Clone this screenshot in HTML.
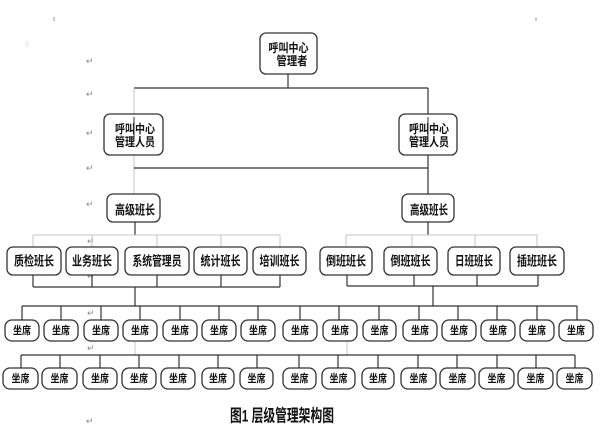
<!DOCTYPE html>
<html>
<head>
<meta charset="utf-8">
<style>
html,body{margin:0;padding:0;background:#fff;}
svg{display:block;}
text{font-family:"Liberation Sans","Noto Sans CJK SC",sans-serif;fill:#111;}
.t{font-weight:bold;}
.b{fill:#fff;stroke:#333;stroke-width:1.3;}
.l{stroke:#333;stroke-width:1.2;fill:none;}
.g{stroke:#c4c4c4;stroke-width:1;fill:none;}
.pm{font-size:9px;fill:#8a8a8a;}
</style>
</head>
<body>
<svg width="600" height="431" viewBox="0 0 600 431" xmlns="http://www.w3.org/2000/svg">
<line x1="54" y1="17" x2="54" y2="21" stroke="#999" stroke-width="1"/>
<line x1="536" y1="17" x2="536" y2="21" stroke="#999" stroke-width="1"/>
<text x="25" y="45" style="font-size:7px;fill:#ddd">ɡ</text>

<g>
<text x="86" y="64" class="pm">↵</text>
<text x="86" y="97" class="pm">↵</text>
<text x="86" y="136" class="pm">↵</text>
<text x="86" y="171" class="pm">↵</text>
<text x="86" y="207" class="pm">↵</text>
<text x="87" y="244" class="pm">↵</text>
<text x="87" y="279" class="pm">↵</text>
<text x="87" y="316" class="pm">↵</text>
<text x="87" y="351" class="pm">↵</text>
<text x="86" y="388" class="pm">↵</text>
<text x="86" y="424" class="pm">↵</text>
</g>

<line class="l" x1="288" y1="74" x2="288" y2="88"/>
<line class="l" x1="134" y1="88" x2="428" y2="88"/>
<line class="g" x1="134" y1="88" x2="134" y2="194"/>
<line class="l" x1="428" y1="88" x2="428" y2="194"/>
<line class="l" x1="134" y1="168" x2="428" y2="168"/>

<rect class="b" x="260" y="33" width="57" height="41" rx="6"/>
<text class="t" x="288.5" y="48" dominant-baseline="central" text-anchor="middle" font-size="12" textLength="40" lengthAdjust="spacingAndGlyphs">呼叫中心</text>
<text class="t" x="292" y="61" dominant-baseline="central" text-anchor="middle" font-size="12" textLength="31" lengthAdjust="spacingAndGlyphs">管理者</text>

<rect class="b" x="104" y="114" width="59" height="41" rx="6"/>
<text class="t" x="135" y="129" dominant-baseline="central" text-anchor="middle" font-size="12" textLength="40" lengthAdjust="spacingAndGlyphs">呼叫中心</text>
<text class="t" x="135" y="142" dominant-baseline="central" text-anchor="middle" font-size="12" textLength="40" lengthAdjust="spacingAndGlyphs">管理人员</text>
<line x1="134" y1="117" x2="134" y2="141" stroke="#333" stroke-width="1"/>

<rect class="b" x="399" y="114" width="58" height="41" rx="6"/>
<text class="t" x="429" y="129" dominant-baseline="central" text-anchor="middle" font-size="12" textLength="40" lengthAdjust="spacingAndGlyphs">呼叫中心</text>
<text class="t" x="429" y="142" dominant-baseline="central" text-anchor="middle" font-size="12" textLength="40" lengthAdjust="spacingAndGlyphs">管理人员</text>
<line x1="428" y1="117" x2="428" y2="141" stroke="#333" stroke-width="1"/>

<rect class="b" x="107" y="194" width="53" height="28" rx="6"/>
<text class="t" x="135" y="210" dominant-baseline="central" text-anchor="middle" font-size="13" textLength="40" lengthAdjust="spacingAndGlyphs">高级班长</text>
<rect class="b" x="402" y="194" width="52" height="28" rx="6"/>
<text class="t" x="429" y="210" dominant-baseline="central" text-anchor="middle" font-size="13" textLength="38" lengthAdjust="spacingAndGlyphs">高级班长</text>

<line class="l" x1="135" y1="222" x2="135" y2="235"/>
<line class="g" x1="33" y1="235" x2="280" y2="235"/>
<g class="g">
<line x1="33" y1="235" x2="33" y2="247"/>
<line x1="92" y1="235" x2="92" y2="247"/>
<line x1="157" y1="235" x2="157" y2="247"/>
<line x1="221" y1="235" x2="221" y2="247"/>
<line x1="280" y1="235" x2="280" y2="247"/>
</g>
<line class="l" x1="33" y1="287" x2="280" y2="287"/>
<g class="l">
<line x1="33" y1="275" x2="33" y2="287"/>
<line x1="92" y1="275" x2="92" y2="287"/>
<line x1="157" y1="275" x2="157" y2="287"/>
<line x1="221" y1="275" x2="221" y2="287"/>
<line x1="280" y1="275" x2="280" y2="287"/>
</g>
<line class="l" x1="135" y1="287" x2="135" y2="306"/>

<line class="l" x1="428" y1="222" x2="428" y2="235"/>
<line class="g" x1="346" y1="235" x2="537" y2="235"/>
<g class="g">
<line x1="346" y1="235" x2="346" y2="247"/>
<line x1="412" y1="235" x2="412" y2="247"/>
<line x1="475" y1="235" x2="475" y2="247"/>
<line x1="537" y1="235" x2="537" y2="247"/>
</g>
<line class="l" x1="347" y1="286" x2="538" y2="286"/>
<g class="l">
<line x1="347" y1="275" x2="347" y2="286"/>
<line x1="414" y1="275" x2="414" y2="286"/>
<line x1="477" y1="275" x2="477" y2="286"/>
<line x1="538" y1="275" x2="538" y2="286"/>
</g>
<line class="l" x1="433" y1="286" x2="433" y2="306"/>

<g class="t">
<rect class="b" x="7" y="247" width="54" height="28" rx="6"/>
<text x="34" y="261" dominant-baseline="central" text-anchor="middle" font-size="13" textLength="40" lengthAdjust="spacingAndGlyphs">质检班长</text>
<rect class="b" x="66" y="247" width="52" height="28" rx="6"/>
<text x="92" y="261" dominant-baseline="central" text-anchor="middle" font-size="13" textLength="40" lengthAdjust="spacingAndGlyphs">业务班长</text>
<rect class="b" x="125" y="247" width="64" height="28" rx="6"/>
<text x="157" y="261" dominant-baseline="central" text-anchor="middle" font-size="13" textLength="49" lengthAdjust="spacingAndGlyphs">系统管理员</text>
<rect class="b" x="194" y="247" width="53" height="28" rx="6"/>
<text x="220.5" y="261" dominant-baseline="central" text-anchor="middle" font-size="13" textLength="40" lengthAdjust="spacingAndGlyphs">统计班长</text>
<rect class="b" x="253" y="247" width="53" height="28" rx="6"/>
<text x="279.5" y="261" dominant-baseline="central" text-anchor="middle" font-size="13" textLength="40" lengthAdjust="spacingAndGlyphs">培训班长</text>
<rect class="b" x="320" y="247" width="52" height="28" rx="6"/>
<text x="346" y="261" dominant-baseline="central" text-anchor="middle" font-size="13" textLength="40" lengthAdjust="spacingAndGlyphs">倒班班长</text>
<rect class="b" x="384" y="247" width="53" height="28" rx="6"/>
<text x="410.5" y="261" dominant-baseline="central" text-anchor="middle" font-size="13" textLength="40" lengthAdjust="spacingAndGlyphs">倒班班长</text>
<rect class="b" x="448" y="247" width="52" height="28" rx="6"/>
<text x="474" y="261" dominant-baseline="central" text-anchor="middle" font-size="13" textLength="38" lengthAdjust="spacingAndGlyphs">日班班长</text>
<rect class="b" x="510" y="247" width="54" height="28" rx="6"/>
<text x="537" y="261" dominant-baseline="central" text-anchor="middle" font-size="13" textLength="40" lengthAdjust="spacingAndGlyphs">插班班长</text>
</g>

<line class="l" x1="22" y1="306" x2="577" y2="306"/>
<g class="l">
<line x1="22" y1="306" x2="22" y2="320"/>
<line x1="61" y1="306" x2="61" y2="320"/>
<line x1="101" y1="306" x2="101" y2="320"/>
<line x1="140" y1="306" x2="140" y2="320"/>
<line x1="180" y1="306" x2="180" y2="320"/>
<line x1="219" y1="306" x2="219" y2="320"/>
<line x1="258" y1="306" x2="258" y2="320"/>
<line x1="300" y1="306" x2="300" y2="320"/>
<line x1="339" y1="306" x2="339" y2="320"/>
<line x1="379" y1="306" x2="379" y2="320"/>
<line x1="419" y1="306" x2="419" y2="320"/>
<line x1="458" y1="306" x2="458" y2="320"/>
<line x1="497" y1="306" x2="497" y2="320"/>
<line x1="537" y1="306" x2="537" y2="320"/>
<line x1="577" y1="306" x2="577" y2="320"/>
</g>
<line class="g" x1="135" y1="341" x2="135" y2="355"/>
<line class="g" x1="347" y1="341" x2="347" y2="355"/>

<g class="t">
<rect class="b" x="5" y="320" width="34" height="21" rx="7"/><text x="22" y="331" dominant-baseline="central" text-anchor="middle" font-size="11" textLength="18" lengthAdjust="spacingAndGlyphs">坐席</text>
<rect class="b" x="44" y="320" width="34" height="21" rx="7"/><text x="61" y="331" dominant-baseline="central" text-anchor="middle" font-size="11" textLength="18" lengthAdjust="spacingAndGlyphs">坐席</text>
<rect class="b" x="84" y="320" width="34" height="21" rx="7"/><text x="101" y="331" dominant-baseline="central" text-anchor="middle" font-size="11" textLength="18" lengthAdjust="spacingAndGlyphs">坐席</text>
<rect class="b" x="123" y="320" width="34" height="21" rx="7"/><text x="140" y="331" dominant-baseline="central" text-anchor="middle" font-size="11" textLength="18" lengthAdjust="spacingAndGlyphs">坐席</text>
<rect class="b" x="163" y="320" width="34" height="21" rx="7"/><text x="180" y="331" dominant-baseline="central" text-anchor="middle" font-size="11" textLength="18" lengthAdjust="spacingAndGlyphs">坐席</text>
<rect class="b" x="202" y="320" width="34" height="21" rx="7"/><text x="219" y="331" dominant-baseline="central" text-anchor="middle" font-size="11" textLength="18" lengthAdjust="spacingAndGlyphs">坐席</text>
<rect class="b" x="241" y="320" width="34" height="21" rx="7"/><text x="258" y="331" dominant-baseline="central" text-anchor="middle" font-size="11" textLength="18" lengthAdjust="spacingAndGlyphs">坐席</text>
<rect class="b" x="283" y="320" width="34" height="21" rx="7"/><text x="300" y="331" dominant-baseline="central" text-anchor="middle" font-size="11" textLength="18" lengthAdjust="spacingAndGlyphs">坐席</text>
<rect class="b" x="323" y="320" width="34" height="21" rx="7"/><text x="340" y="331" dominant-baseline="central" text-anchor="middle" font-size="11" textLength="18" lengthAdjust="spacingAndGlyphs">坐席</text>
<rect class="b" x="363" y="320" width="33" height="21" rx="7"/><text x="379.5" y="331" dominant-baseline="central" text-anchor="middle" font-size="11" textLength="18" lengthAdjust="spacingAndGlyphs">坐席</text>
<rect class="b" x="403" y="320" width="34" height="21" rx="7"/><text x="420" y="331" dominant-baseline="central" text-anchor="middle" font-size="11" textLength="18" lengthAdjust="spacingAndGlyphs">坐席</text>
<rect class="b" x="442" y="320" width="34" height="21" rx="7"/><text x="459" y="331" dominant-baseline="central" text-anchor="middle" font-size="11" textLength="18" lengthAdjust="spacingAndGlyphs">坐席</text>
<rect class="b" x="481" y="320" width="34" height="21" rx="7"/><text x="498" y="331" dominant-baseline="central" text-anchor="middle" font-size="11" textLength="18" lengthAdjust="spacingAndGlyphs">坐席</text>
<rect class="b" x="520" y="320" width="34" height="21" rx="7"/><text x="537" y="331" dominant-baseline="central" text-anchor="middle" font-size="11" textLength="18" lengthAdjust="spacingAndGlyphs">坐席</text>
<rect class="b" x="559" y="320" width="34" height="21" rx="7"/><text x="576" y="331" dominant-baseline="central" text-anchor="middle" font-size="11" textLength="18" lengthAdjust="spacingAndGlyphs">坐席</text>
</g>

<line class="l" x1="21" y1="355" x2="575" y2="355"/>
<g class="l">
<line x1="21" y1="355" x2="21" y2="368"/>
<line x1="60" y1="355" x2="60" y2="368"/>
<line x1="100" y1="355" x2="100" y2="368"/>
<line x1="139" y1="355" x2="139" y2="368"/>
<line x1="179" y1="355" x2="179" y2="368"/>
<line x1="218" y1="355" x2="218" y2="368"/>
<line x1="257" y1="355" x2="257" y2="368"/>
<line x1="299" y1="355" x2="299" y2="368"/>
<line x1="338" y1="355" x2="338" y2="368"/>
<line x1="378" y1="355" x2="378" y2="368"/>
<line x1="418" y1="355" x2="418" y2="368"/>
<line x1="457" y1="355" x2="457" y2="368"/>
<line x1="497" y1="355" x2="497" y2="368"/>
<line x1="536" y1="355" x2="536" y2="368"/>
<line x1="575" y1="355" x2="575" y2="368"/>
</g>

<g class="t">
<rect class="b" x="3" y="368" width="35" height="21" rx="7"/><text x="20.5" y="379" dominant-baseline="central" text-anchor="middle" font-size="11" textLength="18" lengthAdjust="spacingAndGlyphs">坐席</text>
<rect class="b" x="42" y="368" width="35" height="21" rx="7"/><text x="59.5" y="379" dominant-baseline="central" text-anchor="middle" font-size="11" textLength="18" lengthAdjust="spacingAndGlyphs">坐席</text>
<rect class="b" x="83" y="368" width="34" height="21" rx="7"/><text x="100" y="379" dominant-baseline="central" text-anchor="middle" font-size="11" textLength="18" lengthAdjust="spacingAndGlyphs">坐席</text>
<rect class="b" x="122" y="368" width="34" height="21" rx="7"/><text x="139" y="379" dominant-baseline="central" text-anchor="middle" font-size="11" textLength="18" lengthAdjust="spacingAndGlyphs">坐席</text>
<rect class="b" x="161" y="368" width="34" height="21" rx="7"/><text x="178" y="379" dominant-baseline="central" text-anchor="middle" font-size="11" textLength="18" lengthAdjust="spacingAndGlyphs">坐席</text>
<rect class="b" x="202" y="368" width="32" height="21" rx="7"/><text x="218" y="379" dominant-baseline="central" text-anchor="middle" font-size="11" textLength="18" lengthAdjust="spacingAndGlyphs">坐席</text>
<rect class="b" x="240" y="368" width="33" height="21" rx="7"/><text x="256.5" y="379" dominant-baseline="central" text-anchor="middle" font-size="11" textLength="18" lengthAdjust="spacingAndGlyphs">坐席</text>
<rect class="b" x="283" y="368" width="33" height="21" rx="7"/><text x="299.5" y="379" dominant-baseline="central" text-anchor="middle" font-size="11" textLength="18" lengthAdjust="spacingAndGlyphs">坐席</text>
<rect class="b" x="322" y="368" width="33" height="21" rx="7"/><text x="338.5" y="379" dominant-baseline="central" text-anchor="middle" font-size="11" textLength="18" lengthAdjust="spacingAndGlyphs">坐席</text>
<rect class="b" x="362" y="368" width="32" height="21" rx="7"/><text x="378" y="379" dominant-baseline="central" text-anchor="middle" font-size="11" textLength="18" lengthAdjust="spacingAndGlyphs">坐席</text>
<rect class="b" x="401" y="368" width="35" height="21" rx="7"/><text x="418.5" y="379" dominant-baseline="central" text-anchor="middle" font-size="11" textLength="18" lengthAdjust="spacingAndGlyphs">坐席</text>
<rect class="b" x="440" y="368" width="35" height="21" rx="7"/><text x="457.5" y="379" dominant-baseline="central" text-anchor="middle" font-size="11" textLength="18" lengthAdjust="spacingAndGlyphs">坐席</text>
<rect class="b" x="479" y="368" width="35" height="21" rx="7"/><text x="496.5" y="379" dominant-baseline="central" text-anchor="middle" font-size="11" textLength="18" lengthAdjust="spacingAndGlyphs">坐席</text>
<rect class="b" x="518" y="368" width="35" height="21" rx="7"/><text x="535.5" y="379" dominant-baseline="central" text-anchor="middle" font-size="11" textLength="18" lengthAdjust="spacingAndGlyphs">坐席</text>
<rect class="b" x="557" y="368" width="35" height="21" rx="7"/><text x="574.5" y="379" dominant-baseline="central" text-anchor="middle" font-size="11" textLength="18" lengthAdjust="spacingAndGlyphs">坐席</text>
</g>

<text x="282" y="416" dominant-baseline="central" text-anchor="middle" font-size="17" font-weight="bold" textLength="104" lengthAdjust="spacingAndGlyphs" style="font-family:'Liberation Sans','Noto Sans CJK SC',sans-serif">图1 层级管理架构图</text>
</svg>
</body>
</html>
